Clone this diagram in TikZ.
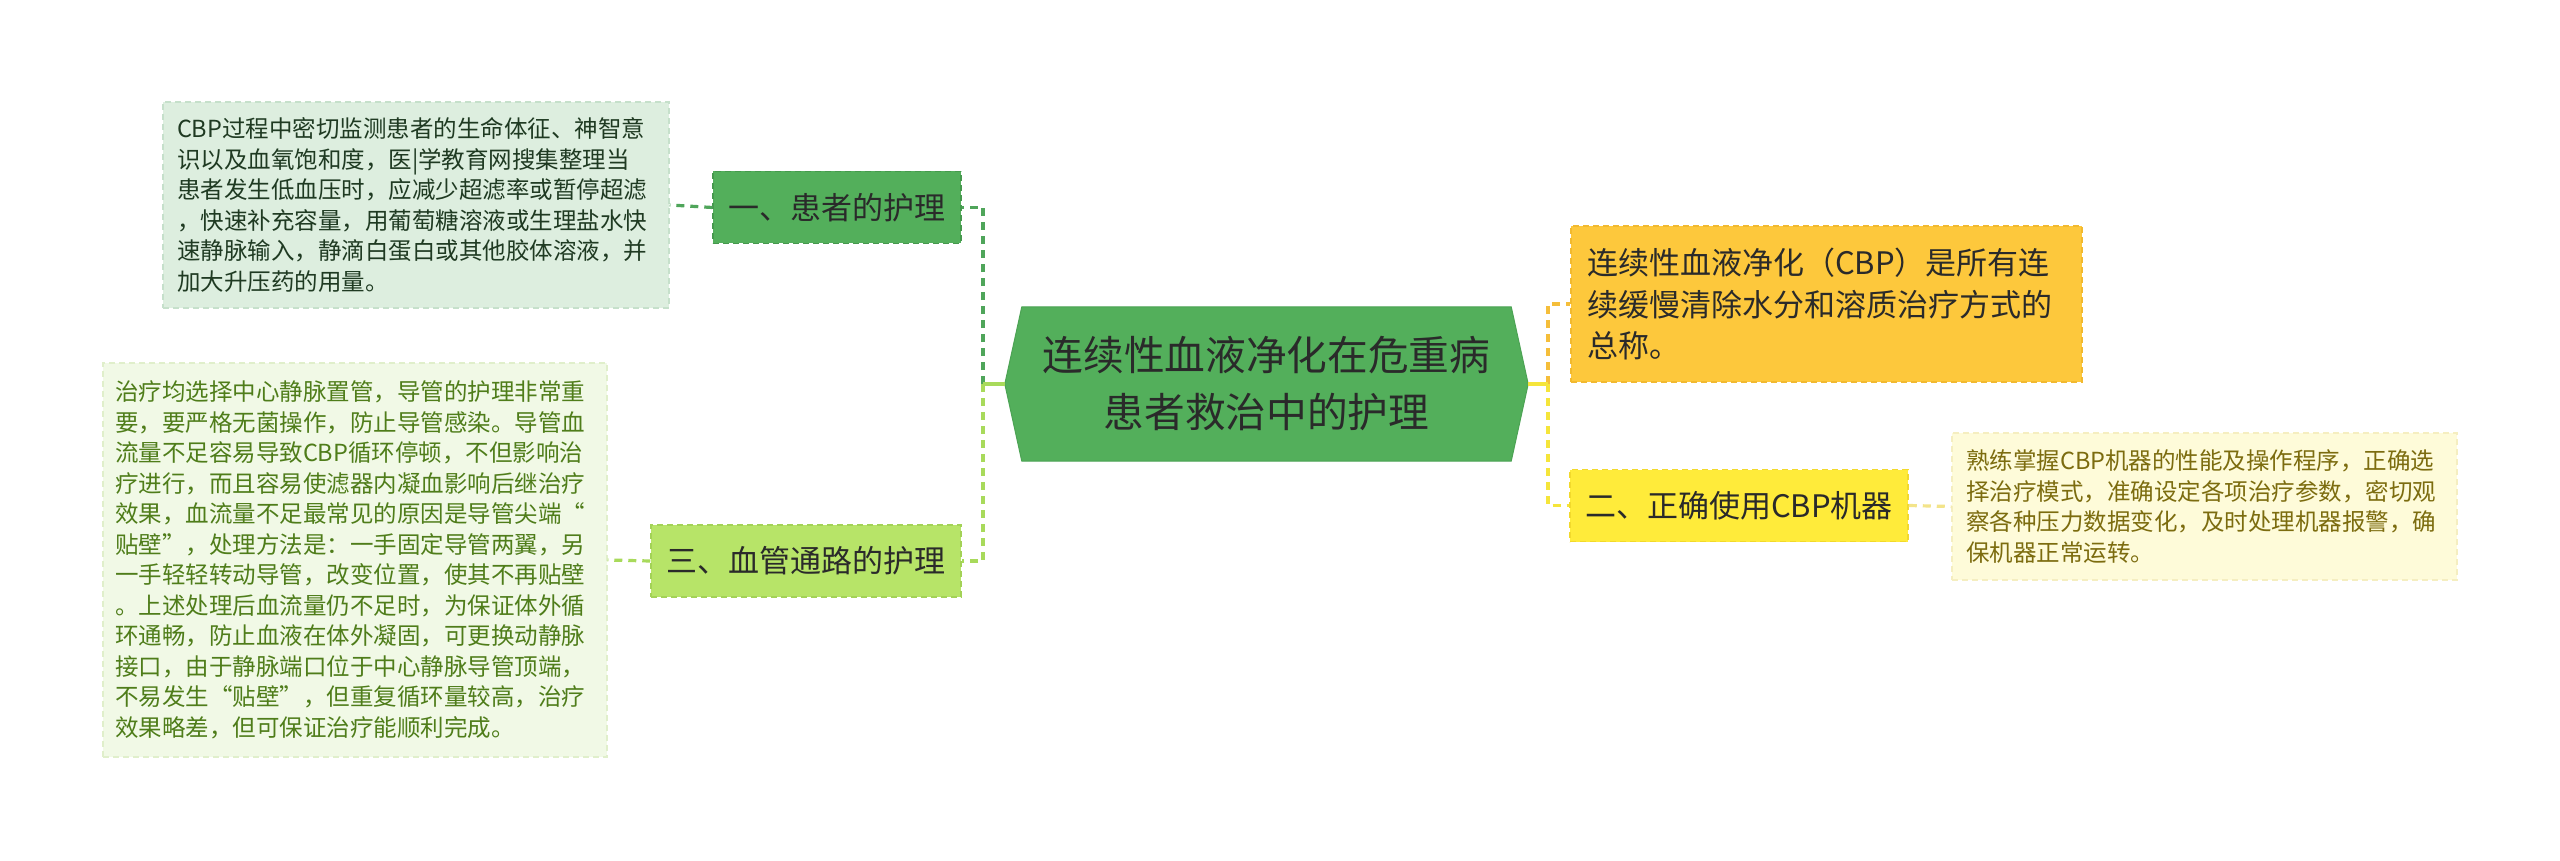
\documentclass[tikz,border=0pt]{standalone}
\usepackage{fontspec}
\setmainfont{Noto Sans CJK SC}
\usetikzlibrary{backgrounds}
\definecolor{hexgreen}{HTML}{53AF5B}
\definecolor{hexedge}{HTML}{4CA354}
\definecolor{darktext}{HTML}{2A2A2A}
\definecolor{aFill}{HTML}{53AF5B}
\definecolor{aEdge}{HTML}{46994E}
\definecolor{aBoxFill}{HTML}{DDEEDF}
\definecolor{aBoxEdge}{HTML}{C6E0CB}
\definecolor{aBoxText}{HTML}{1F3A22}
\definecolor{aLine}{HTML}{4FA55A}
\definecolor{cFill}{HTML}{B7E468}
\definecolor{cEdge}{HTML}{A3D257}
\definecolor{cBoxFill}{HTML}{F1F9E6}
\definecolor{cBoxEdge}{HTML}{E0EFCB}
\definecolor{cBoxText}{HTML}{4F7D1A}
\definecolor{cLine}{HTML}{A8DA5B}
\definecolor{bFill}{HTML}{FDC83C}
\definecolor{bEdge}{HTML}{F2B92F}
\definecolor{bLine}{HTML}{F5BE3A}
\definecolor{dFill}{HTML}{FFEB3A}
\definecolor{dEdge}{HTML}{F2D92C}
\definecolor{dLine}{HTML}{F5E53A}
\definecolor{dBoxFill}{HTML}{FEFBD9}
\definecolor{dBoxEdge}{HTML}{F5EEC0}
\definecolor{dBoxText}{HTML}{7C6C0F}
\definecolor{dBoxLine}{HTML}{F3E48A}
\begin{document}
\begin{tikzpicture}[x=1pt,y=-1pt,
  boxnode/.style={draw, dash pattern=on 6pt off 4pt, line width=1.5pt, inner xsep=14pt, inner ysep=0pt, align=left, anchor=center},
  smallfont/.style={font={\fontsize{23.5pt}{30.5pt}\selectfont}},
  branch/.style={draw, dash pattern=on 6pt off 4pt, line width=1.5pt, inner xsep=0pt, inner ysep=0pt, align=center, anchor=center, text=darktext, font={\fontsize{31pt}{40pt}\selectfont}, minimum height=72pt},
  conn/.style={line width=3.2pt, dash pattern=on 8pt off 6pt}
]
\useasboundingbox (0,0) rectangle (2560,861);

% central hexagon
\node[minimum width=523pt, minimum height=154pt, inner sep=0pt, align=center, text=darktext,
      font={\fontsize{40.7pt}{57pt}\selectfont}] (hex) at (1266.5,384) {连续性血液净化在危重病\\患者救治中的护理};
\begin{scope}[on background layer]
\fill[white] (0,0) rectangle (2560,861);
\fill[hexgreen, draw=hexedge, line width=1pt] (hex.west) -- ([xshift=17pt]hex.north west) -- ([xshift=-17pt]hex.north east) -- (hex.east) -- ([xshift=-17pt]hex.south east) -- ([xshift=17pt]hex.south west) -- cycle;
\end{scope}

% branch nodes
\node[branch, fill=aFill, draw=aEdge, minimum width=248pt] (n1) at (837,207.5) {一、患者的护理};
\node[branch, fill=cFill, draw=cEdge, minimum width=310pt] (n3) at (806,561) {三、血管通路的护理};
\node[branch, fill=dFill, draw=dEdge, minimum width=338pt] (n2) at (1739,505.5) {二、正确使用CBP机器};

% detail boxes
\node[boxnode, smallfont, fill=aBoxFill, draw=aBoxEdge, text=aBoxText, text width=478pt, minimum height=206pt] (b1) at (416,205) {CBP过程中密切监测患者的生命体征、神智意\\识以及血氧饱和度，医|学教育网搜集整理当\\患者发生低血压时，应减少超滤率或暂停超滤\\，快速补充容量，用葡萄糖溶液或生理盐水快\\速静脉输入，静滴白蛋白或其他胶体溶液，并\\加大升压药的用量。};

\node[boxnode, smallfont, fill=cBoxFill, draw=cBoxEdge, text=cBoxText, inner xsep=12pt, text width=480pt, minimum height=394pt] (b3) at (355,560) {治疗均选择中心静脉置管，导管的护理非常重\\要，要严格无菌操作，防止导管感染。导管血\\流量不足容易导致CBP循环停顿，不但影响治\\疗进行，而且容易使滤器内凝血影响后继治疗\\效果，血流量不足最常见的原因是导管尖端“\\贴壁”，处理方法是：一手固定导管两翼，另\\一手轻轻转动导管，改变位置，使其不再贴壁\\。上述处理后血流量仍不足时，为保证体外循\\环通畅，防止血液在体外凝固，可更换动静脉\\接口，由于静脉端口位于中心静脉导管顶端，\\不易发生“贴壁”，但重复循环量较高，治疗\\效果略差，但可保证治疗能顺利完成。};

\node[boxnode, fill=bFill, draw=bEdge, text=darktext, inner xsep=16pt, text width=479pt, minimum height=156pt,
      font={\fontsize{31pt}{41.5pt}\selectfont}] (b2) at (1826.5,304) {连续性血液净化（CBP）是所有连\\续缓慢清除水分和溶质治疗方式的\\总称。};

\node[boxnode, smallfont, fill=dBoxFill, draw=dBoxEdge, text=dBoxText, text width=477pt, minimum height=147pt] (b4) at (2204.5,506.5) {熟练掌握CBP机器的性能及操作程序，正确选\\择治疗模式，准确设定各项治疗参数，密切观\\察各种压力数据变化，及时处理机器报警，确\\保机器正常运转。};

% junction coordinates
\coordinate (jl) at (983,384);
\coordinate (jr) at (1548,384);

% connectors left
\draw[conn, aLine] (jl) |- (n1.east);
\draw[conn, cLine] (jl) |- (n3.east);
\draw[line width=3.2pt, cLine] (hex.west) -- (jl);
\draw[conn, aLine] (n1.west) -- (b1.east);
\draw[conn, cLine] (n3.west) -- (b3.east);

% connectors right
\draw[conn, bLine] (jr) |- (b2.west);
\draw[conn, dLine] (jr) |- (n2.west);
\draw[line width=3.2pt, dLine] (hex.east) -- (jr);
\draw[conn, dBoxLine] (n2.east) -- (b4.west);
\end{tikzpicture}
\end{document}
